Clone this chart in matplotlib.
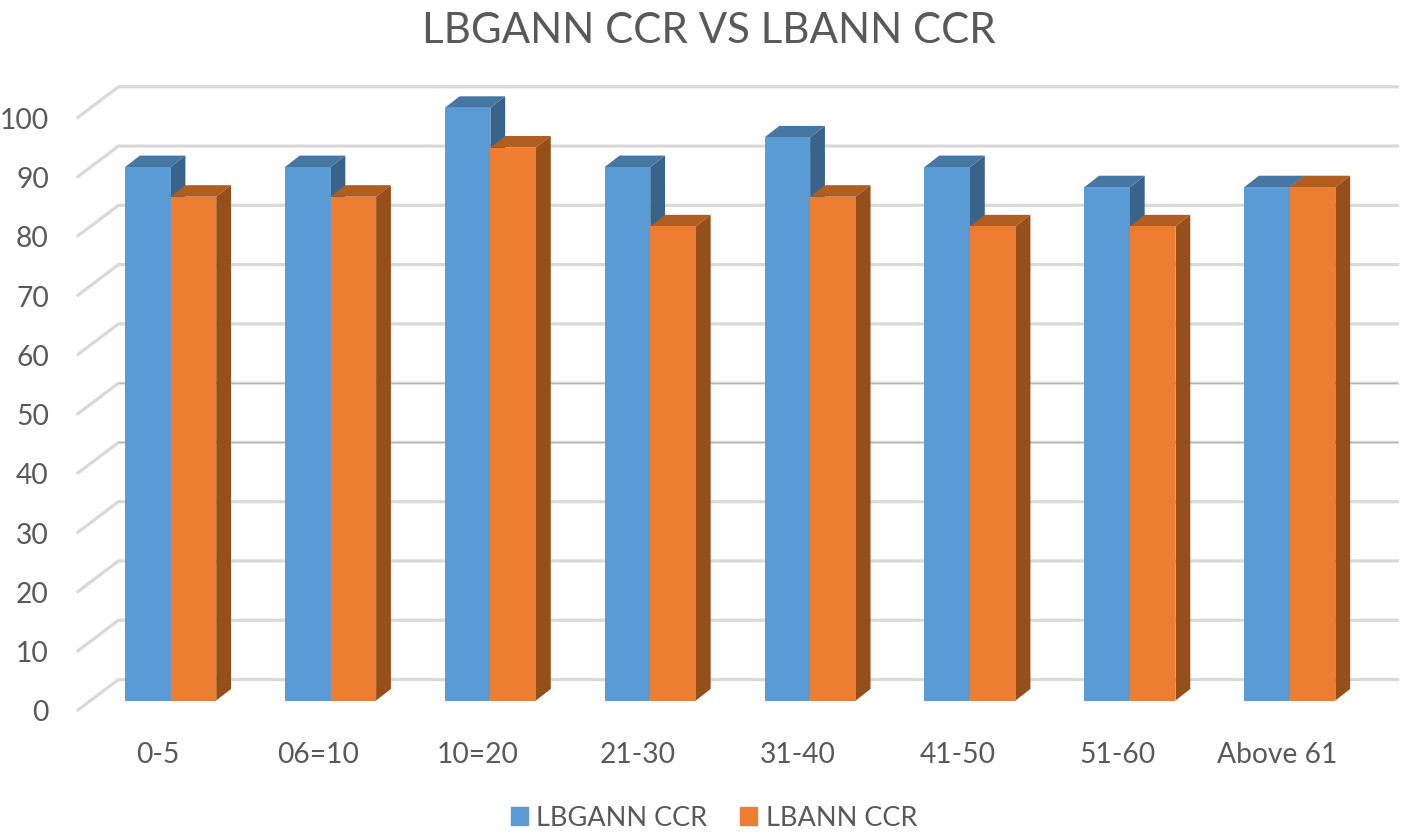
"""LBGANN CCR vs LBANN CCR, 3D look clustered columns drawn on a plain 2D axes."""
import matplotlib
matplotlib.use("Agg")
import matplotlib.pyplot as plt
from matplotlib.patches import Patch

plt.rcParams["font.family"] = ["Lato", "DejaVu Sans"]

categories = ["0-5", "06=10", "10=20", "21-30", "31-40", "41-50", "51-60", "Above 61"]
lbgann_ccr = [90, 90, 100, 90, 95, 90, 86.6, 86.6]
lbann_ccr = [85, 85, 93.3, 80, 85, 80, 80, 86.6]
y_ticks = [0, 10, 20, 30, 40, 50, 60, 70, 80, 90, 100]

W, H = 1419, 837
LEFT, RIGHT = 78, 1357      # front floor edge, pixels
BOTTOM, TOP = 711, 118.3    # value 0 and 100 on the front floor plane, pixels
PX_X = (RIGHT - LEFT) / len(categories)
PX_Y = (BOTTOM - TOP) / 100

GREY = "#595959"
GRID = "#D9D9D9"
BLUE = ("#5B9BD5", "#4676A2", "#3A638C")
ORANGE = ("#ED7D31", "#B25D20", "#954F1A")

# depth offsets turned into data units
wall_dx, wall_dy = 40.5 / PX_X, 30.5 / PX_Y
bar_dx, bar_dy = 14.8 / PX_X, 11.5 / PX_Y
lift = 9.5 / PX_Y
bar_w = 45.6 / PX_X
shift = 12.7 / PX_X


def draw_series(ax, xs, values, colors, z):
    """Top and side faces first, then the front of the bars."""
    for x, v in zip(xs, values):
        left, right = x - bar_w / 2, x + bar_w / 2
        top = v + lift
        ax.fill([left, right, right + bar_dx, left + bar_dx],
                [top, top, top + bar_dy, top + bar_dy],
                color=colors[1], lw=0, zorder=z, clip_on=False)
        ax.fill([right, right + bar_dx, right + bar_dx, right],
                [lift, lift + bar_dy, top + bar_dy, top],
                color=colors[2], lw=0, zorder=z, clip_on=False)


fig = plt.figure(figsize=(W / 100, H / 100), dpi=100)
ax = fig.add_axes([LEFT / W, 1 - BOTTOM / H, (RIGHT - LEFT) / W, (BOTTOM - TOP) / H])
ax.set_xlim(-0.5, len(categories) - 0.5)
ax.set_ylim(0, 100)
for side in ax.spines.values():
    side.set_visible(False)

# back wall and left side wall gridlines
x0, x1 = -0.5, len(categories) - 0.5
for v in y_ticks:
    ax.plot([x0, x0 + wall_dx, x1 + wall_dx], [v, v + wall_dy, v + wall_dy],
            color=GRID, lw=2.3, clip_on=False, zorder=1, solid_joinstyle="miter")
for v in [40, 50]:
    ax.plot([x0 + wall_dx, x1 + wall_dx], [v + wall_dy, v + wall_dy],
            color="#B0B0B0", lw=0.6, clip_on=False, zorder=1)

positions = list(range(len(categories)))
blue_x = [p + shift - bar_w / 2 for p in positions]
orange_x = [p + shift + bar_w / 2 for p in positions]

draw_series(ax, blue_x, lbgann_ccr, BLUE, 2)
draw_series(ax, orange_x, lbann_ccr, ORANGE, 3)
ax.bar(blue_x, lbgann_ccr, bar_w, bottom=lift, color=BLUE[0], zorder=4, clip_on=False)
ax.bar(orange_x, lbann_ccr, bar_w, bottom=lift, color=ORANGE[0], zorder=5, clip_on=False)

ax.set_xticks(positions, categories)
ax.set_yticks(y_ticks)
ax.tick_params(axis="both", length=0, labelsize=20.3, labelcolor=GREY)
ax.tick_params(axis="x", pad=22)
ax.tick_params(axis="y", pad=21)

fig.text(708.5 / W, 1 - 31 / H, "LBGANN CCR VS LBANN CCR", ha="center", va="center",
         fontsize=30.3, color=GREY)

handles = [Patch(color=BLUE[0], label="LBGANN CCR"), Patch(color=ORANGE[0], label="LBANN CCR")]
fig.legend(handles=handles, loc="center", bbox_to_anchor=(714 / W, 1 - 819 / H), ncol=2,
           frameon=False, fontsize=19.5, labelcolor=GREY, handlelength=0.63, handleheight=0.63,
           handletextpad=0.33, columnspacing=1.2, borderpad=0)

fig.savefig("out.png", dpi=100)
plt.close(fig)
